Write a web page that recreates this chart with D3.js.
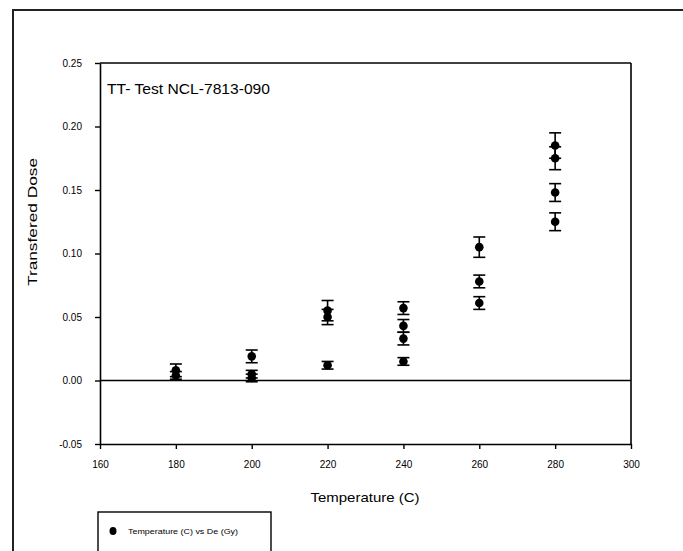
<!DOCTYPE html>
<html>
<head>
<meta charset="utf-8">
<script src="https://cdn.jsdelivr.net/npm/d3@7"></script>
<style>
  html, body { margin: 0; padding: 0; background: #fff; }
  svg { display: block; }
  text { font-family: "Liberation Sans", Arial, sans-serif; fill: #000; }
</style>
</head>
<body>
<svg id="chart" width="683" height="551"></svg>
<script>
// ---- data ----
const temperature = [180, 180, 200, 200, 200, 220, 220, 220, 240, 240, 240, 240, 260, 260, 260, 280, 280, 280, 280];
const dose        = [0.008, 0.004, 0.019, 0.005, 0.002, 0.055, 0.050, 0.012, 0.057, 0.043, 0.033, 0.015, 0.105, 0.078, 0.061, 0.185, 0.175, 0.148, 0.125];
const doseError   = [0.005, 0.003, 0.005, 0.003, 0.003, 0.008, 0.006, 0.003, 0.005, 0.005, 0.005, 0.003, 0.008, 0.005, 0.005, 0.010, 0.009, 0.007, 0.007];
const xTicks = [160, 180, 200, 220, 240, 260, 280, 300];
const yTicks = [-0.05, 0.00, 0.05, 0.10, 0.15, 0.20, 0.25];
const chartTitle = "TT- Test NCL-7813-090";
const xTitle = "Temperature (C)";
const yTitle = "Transfered Dose";
const legendLabel = "Temperature (C) vs De (Gy)";

const svg = d3.select("#chart");

// outer frame (extends past the window at right and bottom)
svg.append("rect")
  .attr("x", 13).attr("y", 10).attr("width", 700).attr("height", 560)
  .attr("fill", "none").attr("stroke", "#222").attr("stroke-width", 2);

const L = 100, R = 631, T = 63, B = 444;
const x = d3.scaleLinear().domain([160, 300]).range([L, R]);
const y = d3.scaleLinear().domain([-0.05, 0.25]).range([B, T]);

const fmtY = v => d3.format(".2f")(v).replace("\u2212", "-");

// axes
const xAxis = d3.axisBottom(x).tickValues(xTicks).tickSize(5).tickSizeOuter(0).tickPadding(12)
  .tickFormat(d3.format("d"));
const yAxis = d3.axisLeft(y).tickValues(yTicks).tickSize(5).tickSizeOuter(0).tickPadding(13)
  .tickFormat(fmtY);

const gx = svg.append("g").attr("transform", `translate(0,${B})`).call(xAxis);
const gy = svg.append("g").attr("transform", `translate(${L},0)`).call(yAxis);
[gx, gy].forEach(g => {
  g.select(".domain").attr("stroke", "#000").attr("stroke-width", 1.6);
  g.selectAll(".tick line").attr("stroke", "#000").attr("stroke-width", 1.4);
  g.selectAll(".tick text").style("font-family", "'Liberation Sans', Arial, sans-serif")
    .style("font-size", "10px").attr("fill", "#000");
});

// top and right borders
svg.append("line").attr("x1", L).attr("x2", R).attr("y1", T).attr("y2", T)
  .attr("stroke", "#000").attr("stroke-width", 1.6);
svg.append("line").attr("x1", R).attr("x2", R).attr("y1", T).attr("y2", B)
  .attr("stroke", "#000").attr("stroke-width", 1.6);

// zero line
svg.append("line").attr("x1", L).attr("x2", R).attr("y1", y(0)).attr("y2", y(0))
  .attr("stroke", "#000").attr("stroke-width", 1.4);

// data
const pts = temperature.map((t, i) => ({ t, d: dose[i], e: doseError[i] }));
const capW = 6;
const eb = svg.append("g").attr("stroke", "#000").attr("stroke-width", 1.6);
pts.forEach(p => {
  const cx = x(p.t);
  eb.append("line").attr("x1", cx).attr("x2", cx).attr("y1", y(p.d + p.e)).attr("y2", y(p.d - p.e));
  eb.append("line").attr("x1", cx - capW).attr("x2", cx + capW).attr("y1", y(p.d + p.e)).attr("y2", y(p.d + p.e));
  eb.append("line").attr("x1", cx - capW).attr("x2", cx + capW).attr("y1", y(p.d - p.e)).attr("y2", y(p.d - p.e));
});
svg.append("g").selectAll("circle").data(pts).join("circle")
  .attr("cx", d => x(d.t)).attr("cy", d => y(d.d)).attr("r", 4.3).attr("fill", "#000");

// title inside plot
svg.append("text").attr("x", 107).attr("y", 94).style("font-size", "15px")
  .attr("textLength", 163).attr("lengthAdjust", "spacingAndGlyphs").text(chartTitle);

// axis titles
svg.append("text").attr("x", 365).attr("y", 502).attr("text-anchor", "middle")
  .style("font-size", "13px").attr("textLength", 109).attr("lengthAdjust", "spacingAndGlyphs").text(xTitle);
svg.append("text").attr("transform", `translate(37,222) rotate(-90)`)
  .attr("text-anchor", "middle").style("font-size", "13px")
  .attr("textLength", 128).attr("lengthAdjust", "spacingAndGlyphs").text(yTitle);

// legend
svg.append("rect").attr("x", 98).attr("y", 512).attr("width", 173).attr("height", 60)
  .attr("fill", "none").attr("stroke", "#000").attr("stroke-width", 1.4);
svg.append("ellipse").attr("cx", 113).attr("cy", 531).attr("rx", 3.5).attr("ry", 4).attr("fill", "#000");
svg.append("text").attr("x", 128).attr("y", 534).style("font-size", "8px")
  .attr("textLength", 110).attr("lengthAdjust", "spacingAndGlyphs").text(legendLabel);
</script>
</body>
</html>
